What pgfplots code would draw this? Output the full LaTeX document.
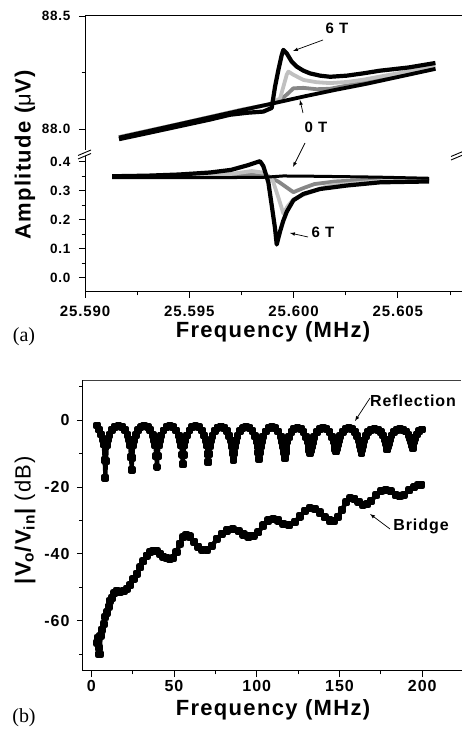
\documentclass[border=0pt]{standalone}
\usepackage{fontspec}
\setmainfont{Liberation Sans}[LetterSpace=6]
\newfontfamily\serif{Liberation Serif}
\newfontfamily\plain{Liberation Sans}
\usepackage{pgfplots}
\pgfplotsset{compat=1.18}
\definecolor{lgray}{RGB}{192,192,192}
\definecolor{mgray}{RGB}{135,135,135}
\pgfplotsset{myax/.style={scale only axis, axis line style={line width=1pt}, tick align=outside,
  major tick length=6pt, minor tick length=3.5pt, every tick/.style={black, line width=0.9pt},
  tick label style={font=\bfseries\fontsize{15}{15}\selectfont}},
  curve/.style={line width=3.8pt, line join=round, mark=none}}
\begin{document}
\begin{tikzpicture}[x=1pt,y=1pt]
\useasboundingbox (0pt,0pt) rectangle (461pt,729pt);
% ---------- panel (a), upper part ----------
\begin{axis}[myax, at={(85pt,579pt)}, anchor=south west, width=385.9pt, height=134pt,
  xmin=0, xmax=18.5, ymin=87.907, ymax=88.5,
  axis x line*=top, axis y line*=left, xtick=\empty,
  ytick={88.0,88.5}, yticklabels={88.0,88.5}, minor ytick={88.25},
  yticklabel style={font=\bfseries\fontsize{13.5}{13.5}\selectfont, xshift=-5pt}]
\addplot[curve, mgray] coordinates {(1.63,87.964) (4.5,88.022) (7.5,88.085) (8.9,88.110) (9.35,88.128) (9.67,88.152) (9.99,88.180) (10.47,88.182) (11.1,88.176) (11.75,88.178) (12.55,88.192) (14.14,88.219) (16.8,88.270)};
\addplot[curve, lgray] coordinates {(1.63,87.963) (4.5,88.021) (7.5,88.084) (8.8,88.108) (9.35,88.135) (9.51,88.187) (9.67,88.240) (9.75,88.254) (9.99,88.240) (10.47,88.217) (11.1,88.207) (11.75,88.203) (12.55,88.208) (13.34,88.218) (14.14,88.232) (16.8,88.276)};
\addplot[curve, black, line width=4.2pt] coordinates {(1.63,87.955) (3.0,87.982) (4.5,88.012) (6.0,88.042) (6.95,88.063) (7.8,88.072) (8.55,88.077) (8.95,88.093) (9.11,88.187) (9.27,88.261) (9.43,88.327) (9.51,88.350) (9.67,88.335) (9.91,88.298) (10.15,88.276) (10.47,88.258) (10.79,88.246) (11.27,88.236) (11.75,88.231) (12.55,88.236) (13.33,88.246) (14.14,88.258) (15.5,88.272) (16.8,88.292)};
\addplot[curve, black] coordinates {(1.63,87.962) (3.0,87.990) (4.5,88.021) (6.0,88.052) (7.5,88.083) (9.0,88.113) (10.5,88.144) (12.0,88.173) (13.5,88.200) (15.0,88.230) (16.8,88.266)};
\end{axis}
% ---------- panel (a), lower part ----------
\begin{axis}[myax, at={(85pt,437pt)}, anchor=south west, width=385.9pt, height=136pt,
  xmin=0, xmax=18.5, ymin=-0.05, ymax=0.42,
  axis x line*=bottom, axis y line*=left,
  xtick={0,5,10,15}, xticklabels={25.590,25.595,25.600,25.605}, minor xtick={2.5,7.5,12.5,17.5},
  ytick={0,0.1,0.2,0.3,0.4}, yticklabels={0.0,0.1,0.2,0.3,0.4}, minor ytick={0.05,0.15,0.25,0.35},
  xticklabel style={yshift=-4pt},
  yticklabel style={font=\bfseries\fontsize{13.5}{13.5}\selectfont, xshift=-5pt}]
\addplot[curve, mgray] coordinates {(1.3,0.349) (4.5,0.350) (7.8,0.356) (8.8,0.350) (9.3,0.330) (9.99,0.295) (10.5,0.310) (11.0,0.323) (12.0,0.332) (14.14,0.340) (16.5,0.340)};
\addplot[curve, lgray] coordinates {(1.3,0.350) (4.5,0.352) (7.0,0.358) (8.0,0.368) (8.6,0.362) (9.0,0.335) (9.3,0.270) (9.51,0.221) (9.7,0.245) (9.99,0.270) (10.4,0.284) (11.1,0.303) (11.75,0.318) (13.0,0.326) (14.14,0.333) (16.5,0.337)};
\addplot[curve, black, line width=4.2pt] coordinates {(1.3,0.350) (3.0,0.352) (4.5,0.356) (6.0,0.363) (7.0,0.372) (7.8,0.388) (8.39,0.402) (8.55,0.385) (8.79,0.329) (8.95,0.250) (9.11,0.170) (9.19,0.114) (9.35,0.159) (9.5,0.195) (9.67,0.227) (9.99,0.267) (10.47,0.289) (11.27,0.306) (12.55,0.318) (14.14,0.329) (16.5,0.332)};
\addplot[curve, black, line width=3pt] coordinates {(1.3,0.345) (4.5,0.345) (8.5,0.346) (9.5,0.351) (11.0,0.350) (14.0,0.347) (16.5,0.343)};
\end{axis}
% axis breaks
\draw[line width=0.9pt] (78,570) -- (91,575.5) (78,573.5) -- (91,579);
\draw[line width=0.9pt] (451,569) -- (464,574.5) (451,572.5) -- (464,578);
% annotations (a)
\node[font=\bfseries\fontsize{15}{15}\selectfont] at (337,701) {6 T};
\draw[line width=0.7pt,-latex] (323,689) -- (293,678);
\node[font=\bfseries\fontsize{15}{15}\selectfont] at (316,602) {0 T};
\draw[line width=0.7pt,-latex] (303,616) -- (300,629);
\draw[line width=0.7pt,-latex] (305,586) -- (293,562);
\node[font=\bfseries\fontsize{15}{15}\selectfont] at (323,497) {6 T};
\draw[line width=0.7pt,-latex] (308,492) -- (290,496);
\node[rotate=90, font=\bfseries\fontsize{22}{22}\selectfont] at (25,574) {Amplitude ({\plain\mdseries μ}V)};
\node[font=\bfseries\fontsize{22}{22}\selectfont, anchor=base] at (273,391) {Frequency (MHz)};
\node[font=\serif\fontsize{20}{20}\selectfont] at (24,392) {(a)};
% ---------- panel (b) ----------
\draw[black!75, line width=0.8pt] (83,349) -- (461,349);
\begin{axis}[myax, at={(83pt,58pt)}, anchor=south west, width=388.9pt, height=291pt,
  xmin=-5, xmax=230, ymin=-75, ymax=12,
  axis x line*=bottom, axis y line*=left,
  xtick={0,50,100,150,200}, xticklabels={0,50,100,150,200}, minor xtick={25,75,125,175,225},
  ytick={-60,-40,-20,0}, yticklabels={-60,-40,-20,0}, minor ytick={-70,-50,-30,-10,10},
  yticklabel style={xshift=-4pt},
  tick label style={font=\bfseries\fontsize{16}{16}\selectfont}]
\addplot[line width=4pt, line join=round, black, mark=square*, mark size=1.9pt] coordinates {
(3.6,-1.6) (4.5,-2.8) (6.0,-4.3) (6.9,-5.7) (7.5,-7.3) (8.0,-12.0) (8.5,-17.2)
(9.0,-12.3) (9.5,-7.4) (10.1,-5.8) (11.0,-4.4) (12.5,-2.9) (14.45,-1.95) (16.45,-1.6) (18.45,-1.95) (20.4,-2.9) (21.9,-4.4) (22.8,-5.8) (23.4,-7.4) (23.9,-11.1) (24.4,-14.8)
(24.9,-11.2) (25.4,-7.5) (26.0,-5.9) (26.9,-4.5) (28.4,-3.0) (30.05,-2.05) (32.05,-1.7) (34.05,-2.05) (35.7,-3.0) (37.2,-4.5) (38.1,-5.9) (38.7,-7.5) (39.2,-10.8) (39.7,-14.0)
(40.2,-10.8) (40.7,-7.6) (41.3,-6.0) (42.2,-4.6) (43.7,-3.1) (45.5,-2.15) (47.5,-1.8) (49.5,-2.15) (51.3,-3.1) (52.8,-4.6) (53.7,-6.0) (54.3,-7.6) (54.8,-10.4) (55.3,-13.2)
(55.8,-10.4) (56.3,-7.6) (56.9,-6.0) (57.8,-4.6) (59.3,-3.1) (61.0,-2.15) (63.0,-1.8) (65.0,-2.15) (66.7,-3.1) (68.2,-4.6) (69.1,-6.0) (69.7,-7.6) (70.2,-10.1) (70.7,-12.5)
(71.2,-10.1) (71.7,-7.7) (72.3,-6.1) (73.2,-4.7) (74.7,-3.2) (76.3,-2.25) (78.3,-1.9) (80.3,-2.25) (81.9,-3.2) (83.4,-4.7) (84.3,-6.1) (84.9,-7.7) (85.4,-9.8) (85.9,-11.8)
(86.4,-9.8) (86.9,-7.8) (87.5,-6.2) (88.4,-4.8) (89.9,-3.3) (91.65,-2.35) (93.65,-2.0) (95.65,-2.35) (97.4,-3.3) (98.9,-4.8) (99.8,-6.2) (100.4,-7.8) (100.9,-9.7) (101.4,-11.5)
(101.9,-9.7) (102.4,-7.9) (103.0,-6.3) (103.9,-4.9) (105.4,-3.4) (107.2,-2.45) (109.2,-2.1) (111.2,-2.45) (113.0,-3.4) (114.5,-4.9) (115.4,-6.3) (116.0,-7.9) (116.5,-9.6) (117.0,-11.3)
(117.5,-9.6) (118.0,-8.0) (118.6,-6.4) (119.5,-5.0) (121.0,-3.5) (122.65,-2.55) (124.65,-2.2) (126.65,-2.55) (128.3,-3.5) (129.8,-5.0) (130.7,-6.4) (131.3,-8.0) (131.8,-8.9) (132.3,-9.8)
(132.8,-8.9) (133.3,-7.8) (133.9,-6.5) (134.8,-5.1) (136.3,-3.6) (138.15,-2.65) (140.15,-2.3) (142.15,-2.65) (144.0,-3.6) (145.5,-5.0) (146.4,-6.3) (147.0,-7.6) (147.5,-8.6) (148.0,-9.4)
(148.5,-8.5) (149.0,-7.3) (149.6,-6.0) (150.5,-4.8) (152.0,-3.5) (153.65,-2.75) (155.65,-2.4) (157.65,-2.75) (159.3,-3.5) (160.8,-4.8) (161.7,-6.1) (162.3,-7.5) (162.8,-8.7) (163.3,-9.8)
(163.8,-8.7) (164.3,-7.5) (164.9,-6.1) (165.8,-4.8) (167.3,-3.5) (169.1,-2.85) (171.1,-2.5) (173.1,-2.85) (174.9,-3.5) (176.4,-4.6) (177.3,-5.8) (177.9,-6.9) (178.4,-7.9) (178.9,-8.8)
(179.4,-7.9) (179.9,-6.9) (180.5,-5.8) (181.4,-4.6) (182.9,-3.5) (184.55,-2.95) (186.55,-2.6) (188.55,-2.95) (190.2,-3.4) (191.7,-4.4) (192.6,-5.4) (193.2,-6.4) (193.7,-7.4) (194.2,-8.3)
(194.7,-7.4) (195.2,-6.4) (195.8,-5.3) (196.7,-4.3) (198.2,-3.3) (199.8,-2.8)};
\addplot[line width=4.5pt, line join=round, black, mark=square*, mark size=1.8pt] coordinates {
(3.5,-66.5) (4.2,-65.0) (4.6,-68.0) (5.0,-70.0) (5.6,-64.5) (6.4,-62.7) (7.5,-61.0) (8.5,-58.8) (9.5,-57.5) (10.5,-55.8) (11.4,-54.0) (12.5,-53.2) (14.0,-51.8) (15.5,-51.0) (17.5,-51.3) (19.5,-51.2) (21.5,-50.5) (23.5,-49.3) (25.5,-47.5) (27.5,-46.0) (29.5,-44.0) (31.5,-42.2) (33.5,-40.5) (35.5,-39.5) (37.5,-39.0) (39.5,-39.2) (41.5,-40.0) (43.5,-40.8) (45.5,-41.3) (47.5,-41.5) (49.5,-41.2) (51.5,-39.5) (53.5,-37.0) (55.5,-35.0) (57.5,-34.3) (59.5,-34.8) (62.0,-36.3) (64.5,-37.8) (67.0,-38.8) (70.0,-38.8) (73.0,-37.5) (76.0,-35.5) (79.0,-34.0) (82.0,-33.0) (85.5,-32.6) (89.0,-33.2) (92.0,-34.2) (95.0,-34.8) (98.0,-34.6) (101.0,-33.5) (104.0,-31.5) (107.0,-30.0) (110.0,-29.6) (113.0,-30.0) (116.0,-31.0) (119.5,-31.4) (123.0,-30.5) (126.0,-28.8) (129.0,-27.2) (132.0,-26.4) (135.0,-26.5) (138.0,-27.6) (141.0,-29.0) (144.0,-30.0) (146.5,-30.2) (149.0,-29.0) (151.5,-26.8) (154.0,-24.5) (156.5,-23.4) (159.0,-23.5) (161.5,-24.4) (164.0,-25.3) (166.5,-25.2) (169.0,-24.2) (172.0,-22.5) (175.0,-21.3) (178.0,-20.9) (181.0,-21.3) (184.0,-22.4) (186.5,-22.8) (189.0,-22.3) (192.0,-21.0) (195.0,-20.0) (197.5,-19.5) (199.5,-19.3)};
\end{axis}
\node[font=\bfseries\fontsize{16}{16}\selectfont] at (413,328) {Reflection};
\draw[line width=0.7pt,-latex] (370,331) -- (355,308);
\node[font=\bfseries\fontsize{16}{16}\selectfont] at (421,203) {Bridge};
\draw[line width=0.7pt,-latex] (390,200) -- (370,215);
\node[rotate=90, font=\fontsize{22}{22}\selectfont] at (25,209) {{\bfseries |V\textsubscript{o}/V\textsubscript{in}|} (dB)};
\node[font=\bfseries\fontsize{22}{22}\selectfont, anchor=base] at (273,13) {Frequency (MHz)};
\node[font=\serif\fontsize{20}{20}\selectfont] at (24,11) {(b)};
\end{tikzpicture}
\end{document}
